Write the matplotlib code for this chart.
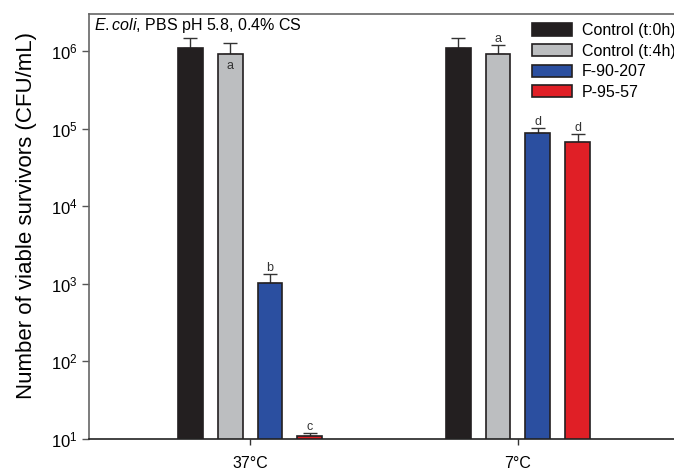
import matplotlib
matplotlib.use('Agg')
import matplotlib.pyplot as plt
import numpy as np

plt.rcParams['font.family'] = ['Liberation Sans', 'DejaVu Sans']
plt.rcParams['mathtext.fontset'] = 'custom'
plt.rcParams['mathtext.rm'] = 'Liberation Sans'
plt.rcParams['mathtext.it'] = 'Liberation Sans:italic'

# data
groups = ['37°C', '7°C']
series = ['Control (t:0h)', 'Control (t:4h)', 'F-90-207', 'P-95-57']
colors = ['#231f20', '#bcbec0', '#2b4fa0', '#e01f26']

ctrl_0h = [1.08e6, 1.08e6]
ctrl_4h = [9.1e5, 9.2e5]
f_90_207 = [1.02e3, 8.9e4]
p_95_57 = [10.8, 6.8e4]

err_0h = [4.0e5, 4.0e5]
err_4h = [3.5e5, 2.7e5]
err_f90 = [300, 1.2e4]
err_p95 = [1.0, 1.6e4]

letters_0h = ['', '']
letters_4h = ['a', 'a']
letters_f90 = ['b', 'd']
letters_p95 = ['c', 'd']

values = [ctrl_0h, ctrl_4h, f_90_207, p_95_57]
errors = [err_0h, err_4h, err_f90, err_p95]
letters = [letters_0h, letters_4h, letters_f90, letters_p95]

fig = plt.figure(figsize=(6.74, 4.70), dpi=100)
ax = fig.add_axes([89 / 674, 1 - 439 / 470, 601 / 674, 425 / 470])
ax.set_yscale('log')

x = np.arange(len(groups))
step = 0.149
width = 0.093

for i, name in enumerate(series):
    pos = x + (i - 1.5) * step
    ax.bar(pos, values[i], width=width, color=colors[i], edgecolor='#231f20',
           linewidth=1.2, label=name, zorder=2)
    ax.errorbar(pos, values[i], yerr=[np.zeros(len(groups)), errors[i]], fmt='none',
                ecolor='#333333', elinewidth=1, capsize=4.7, capthick=1, zorder=1)
    for j, letter in enumerate(letters[i]):
        if letter == '':
            continue
        if i == 1 and j == 0:
            # this one sits inside the bar, under the title
            ax.annotate(letter, (pos[j], values[i][j]), xytext=(0, -4),
                        textcoords='offset points', ha='center', va='top',
                        fontsize=9, color='#333333')
        else:
            ax.annotate(letter, (pos[j], values[i][j] + errors[i][j]), xytext=(0, 0.3),
                        textcoords='offset points', ha='center', va='bottom',
                        fontsize=9, color='#333333')

ax.set_xlim(-0.601, 1.642)
ax.set_ylim(10, 10 ** 6.477)
ax.set_xticks(x)
ax.set_xticklabels(groups, fontsize=11.5)
ax.set_yticks([1e1, 1e2, 1e3, 1e4, 1e5, 1e6])
ax.minorticks_off()
ax.tick_params(axis='y', labelsize=12, length=5, width=1, color='#555555', pad=3)
ax.tick_params(axis='x', length=4, width=1, color='#333333', pad=8)

for side in ['top', 'left']:
    ax.spines[side].set_color('#666666')
    ax.spines[side].set_linewidth(1.2)
ax.spines['bottom'].set_color('#222222')
ax.spines['bottom'].set_linewidth(1.2)
ax.spines['right'].set_visible(False)

ax.set_ylabel('Number of viable survivors (CFU/mL)', fontsize=16)
ax.yaxis.set_label_coords(-0.0865, 0.525)

ax.text(0.008, 0.972, r'$\it{E.coli}$, PBS pH 5.8, 0.4% CS', transform=ax.transAxes,
        ha='left', va='center', fontsize=11.5)

ax.legend(loc='upper left', bbox_to_anchor=(532 / 674, 1 - 23 / 470),
          bbox_transform=fig.transFigure, frameon=False, fontsize=11.5,
          handlelength=2.5, handleheight=0.8, handletextpad=0.6,
          labelspacing=0.35, borderpad=0, borderaxespad=0)

fig.savefig('out.png', dpi=100)
